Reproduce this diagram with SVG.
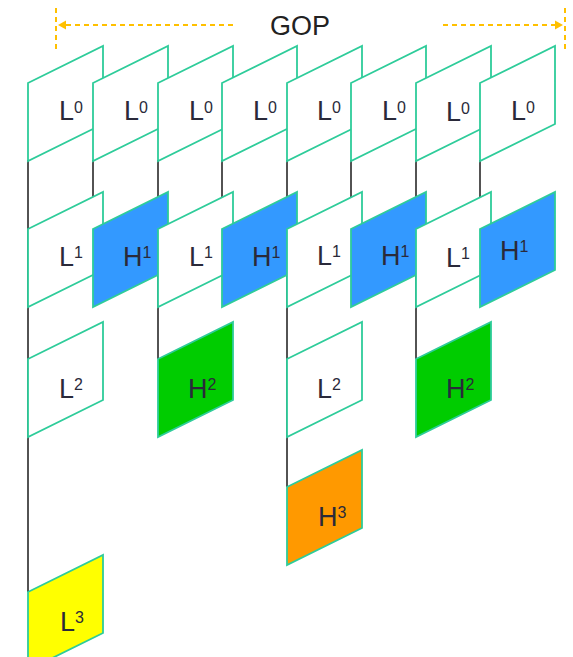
<svg xmlns="http://www.w3.org/2000/svg" xmlns:xlink="http://www.w3.org/1999/xlink" width="573" height="657" viewBox="0 0 573 657">
<style>
.fr{stroke:#2ECC9A;stroke-width:1.8;stroke-linejoin:miter}
.w{fill:#FFFFFF}
.b{fill:#3399FF}
.g{fill:#00CC00}
.o{fill:#FF9900}
.y{fill:#FFFF00}
.lbl{font-family:"Liberation Sans",Arial,sans-serif;font-size:27px;fill:#2a2a3a}
.sup{font-size:16px}
.ln{stroke:#1a1a1a;stroke-width:1.5;fill:none}
.dash{stroke:#FFC000;stroke-width:2;stroke-dasharray:5,4;fill:none}
.ah{fill:#FFC000}
.title{font-family:"Liberation Sans",Arial,sans-serif;font-size:27px;fill:#222}
</style>
<defs>
<path id="pg" d="M0,37 L75,0 L75,78 L0,115 Z"/>
</defs>
<rect width="573" height="657" fill="#FFFFFF"/>
<g id="gop">
<line class="dash" x1="56" y1="8" x2="56" y2="52"/>
<line class="dash" x1="66" y1="25" x2="235" y2="25"/>
<polygon class="ah" points="58,25 66,20.5 66,29.5"/>
<line class="dash" x1="565" y1="8" x2="565" y2="52"/>
<line class="dash" x1="443" y1="25" x2="555" y2="25"/>
<polygon class="ah" points="563,25 555,20.5 555,29.5"/>
<text class="title" x="270" y="35">GOP</text>
</g>
<g id="connectors">
<line class="ln" x1="28" y1="160" x2="28" y2="592"/>
<line class="ln" x1="93" y1="160" x2="93" y2="229"/>
<line class="ln" x1="158" y1="160" x2="158" y2="359"/>
<line class="ln" x1="222" y1="160" x2="222" y2="229"/>
<line class="ln" x1="287" y1="160" x2="287" y2="487"/>
<line class="ln" x1="351" y1="160" x2="351" y2="229"/>
<line class="ln" x1="416" y1="160" x2="416" y2="359"/>
<line class="ln" x1="480" y1="160" x2="480" y2="229"/>
</g>
<g id="L0_1"><use xlink:href="#pg" href="#pg" x="28" y="46" class="fr w"/><text class="lbl" x="59" y="120">L<tspan class="sup" dy="-7">0</tspan></text></g>
<g id="L0_2"><use xlink:href="#pg" href="#pg" x="93" y="46" class="fr w"/><text class="lbl" x="124" y="120">L<tspan class="sup" dy="-7">0</tspan></text></g>
<g id="L0_3"><use xlink:href="#pg" href="#pg" x="158" y="46" class="fr w"/><text class="lbl" x="189" y="120">L<tspan class="sup" dy="-7">0</tspan></text></g>
<g id="L0_4"><use xlink:href="#pg" href="#pg" x="222" y="46" class="fr w"/><text class="lbl" x="253" y="120">L<tspan class="sup" dy="-7">0</tspan></text></g>
<g id="L0_5"><use xlink:href="#pg" href="#pg" x="287" y="46" class="fr w"/><text class="lbl" x="317" y="120">L<tspan class="sup" dy="-7">0</tspan></text></g>
<g id="L0_6"><use xlink:href="#pg" href="#pg" x="351" y="46" class="fr w"/><text class="lbl" x="382" y="120">L<tspan class="sup" dy="-7">0</tspan></text></g>
<g id="L0_7"><use xlink:href="#pg" href="#pg" x="416" y="46" class="fr w"/><text class="lbl" x="446" y="121">L<tspan class="sup" dy="-7">0</tspan></text></g>
<g id="L0_8"><use xlink:href="#pg" href="#pg" x="480" y="46" class="fr w"/><text class="lbl" x="511" y="120">L<tspan class="sup" dy="-7">0</tspan></text></g>
<g id="L1_1"><use xlink:href="#pg" href="#pg" x="28" y="192" class="fr w"/><text class="lbl" x="59" y="266">L<tspan class="sup" dy="-8">1</tspan></text></g>
<g id="H1_1"><use xlink:href="#pg" href="#pg" x="93" y="192" class="fr b"/><text class="lbl" x="123" y="266">H<tspan class="sup" dy="-8">1</tspan></text></g>
<g id="L1_2"><use xlink:href="#pg" href="#pg" x="158" y="192" class="fr w"/><text class="lbl" x="189" y="266">L<tspan class="sup" dy="-8">1</tspan></text></g>
<g id="H1_2"><use xlink:href="#pg" href="#pg" x="222" y="192" class="fr b"/><text class="lbl" x="252" y="266">H<tspan class="sup" dy="-8">1</tspan></text></g>
<g id="L1_3"><use xlink:href="#pg" href="#pg" x="287" y="192" class="fr w"/><text class="lbl" x="317" y="265">L<tspan class="sup" dy="-8">1</tspan></text></g>
<g id="H1_3"><use xlink:href="#pg" href="#pg" x="351" y="192" class="fr b"/><text class="lbl" x="381" y="265">H<tspan class="sup" dy="-8">1</tspan></text></g>
<g id="L1_4"><use xlink:href="#pg" href="#pg" x="416" y="192" class="fr w"/><text class="lbl" x="446" y="267">L<tspan class="sup" dy="-8">1</tspan></text></g>
<g id="H1_4"><use xlink:href="#pg" href="#pg" x="480" y="192" class="fr b"/><text class="lbl" x="500" y="260">H<tspan class="sup" dy="-8">1</tspan></text></g>
<g id="L2_1"><use xlink:href="#pg" href="#pg" x="28" y="322" class="fr w"/><text class="lbl" x="59" y="398">L<tspan class="sup" dy="-8">2</tspan></text></g>
<g id="H2_1"><use xlink:href="#pg" href="#pg" x="158" y="322" class="fr g"/><text class="lbl" x="188" y="398">H<tspan class="sup" dy="-8">2</tspan></text></g>
<g id="L2_2"><use xlink:href="#pg" href="#pg" x="287" y="322" class="fr w"/><text class="lbl" x="317" y="398">L<tspan class="sup" dy="-8">2</tspan></text></g>
<g id="H2_2"><use xlink:href="#pg" href="#pg" x="416" y="322" class="fr g"/><text class="lbl" x="446" y="398">H<tspan class="sup" dy="-8">2</tspan></text></g>
<g id="H3"><use xlink:href="#pg" href="#pg" x="287" y="450" class="fr o"/><text class="lbl" x="318" y="526">H<tspan class="sup" dy="-8">3</tspan></text></g>
<g id="L3"><use xlink:href="#pg" href="#pg" x="28" y="555" class="fr y"/><text class="lbl" x="60" y="631">L<tspan class="sup" dy="-8">3</tspan></text></g>
</svg>
